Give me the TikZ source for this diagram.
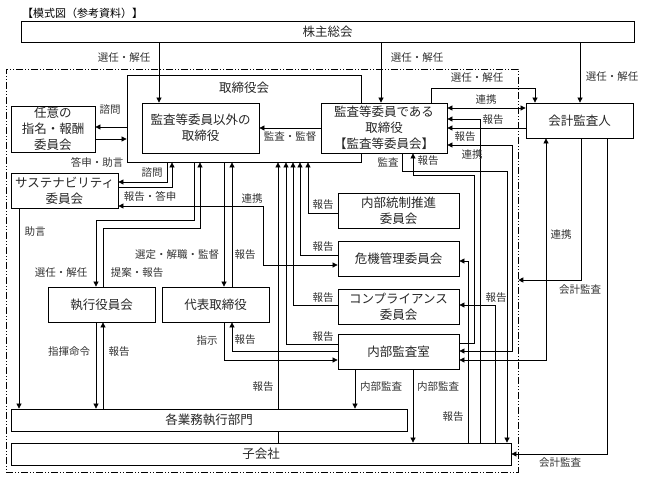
\documentclass[tikz,border=0pt]{standalone}
\usepackage{fontspec}
\setmainfont{Noto Sans CJK JP}
\usetikzlibrary{arrows.meta}
\begin{document}
\begin{tikzpicture}[x=1pt,y=-1pt,
  box/.style={draw,line width=0.8pt,fill=white,align=center,inner sep=0pt,
    font=\fontsize{12.5}{16}\selectfont,text=black!85},
  lbl/.style={font=\fontsize{10.5}{12}\selectfont,text=black!80,inner sep=0pt},
  con/.style={line width=0.7pt},
  arr/.style={con,-{Triangle[length=5pt,width=5pt]}},
  darr/.style={con,{Triangle[length=5pt,width=5pt]}-{Triangle[length=5pt,width=5pt]}},
  frm/.style={draw,line width=0.6pt,dash pattern=on 7pt off 2pt on 1pt off 2pt on 1pt off 2pt},
]
\useasboundingbox (0,0) rectangle (645,479);
\node[anchor=west,font=\fontsize{11}{13}\selectfont,inner sep=0pt] (title) at (22,13) {【模式図（参考資料）】};

% frame
\node[frm,minimum width=512pt,minimum height=403pt,inner sep=0pt] (frame) at (262,270.5) {};

% boxes
\node[box,minimum width=613pt,minimum height=21pt] (sh) at (327.5,31.5) {株主総会};
\node[box,minimum width=234pt,minimum height=87pt] (board) at (244,118.5) {};
\node[font=\fontsize{12.5}{16}\selectfont,text=black!85,inner sep=0pt] (boardt) at (244,88) {取締役会};
\node[box,minimum width=117pt,minimum height=50pt] (nonaudit) at (200.5,128) {監査等委員以外の\\取締役};
\node[box,minimum width=126pt,minimum height=50pt] (audit) at (384,128) {監査等委員である\\取締役\\【監査等委員会】};
\node[box,minimum width=84pt,minimum height=46pt] (nin) at (53,129) {任意の\\指名・報酬\\委員会};
\node[box,minimum width=107pt,minimum height=35pt] (sus) at (64.5,190.5) {サステナビリティ\\委員会};
\node[box,minimum width=107pt,minimum height=35pt] (exec) at (101.5,304.5) {執行役員会};
\node[box,minimum width=107pt,minimum height=35pt] (rep) at (215.5,304.5) {代表取締役};
\node[box,minimum width=121pt,minimum height=35pt] (ic) at (398.5,210.5) {内部統制推進\\委員会};
\node[box,minimum width=121pt,minimum height=35pt] (crisis) at (398.5,258.5) {危機管理委員会};
\node[box,minimum width=121pt,minimum height=35pt] (comp) at (398.5,306.5) {コンプライアンス\\委員会};
\node[box,minimum width=121pt,minimum height=35pt] (ia) at (398.5,351.5) {内部監査室};
\node[box,minimum width=396pt,minimum height=22pt] (biz) at (209,420) {各業務執行部門};
\node[box,minimum width=500pt,minimum height=22pt] (sub) at (261,454) {子会社};
\node[box,minimum width=107pt,minimum height=35pt] (ca) at (579.5,120.5) {会計監査人};

% shareholders
\draw[arr] (159,0 |- sh.south) -- (159,0 |- nonaudit.north);
\node[lbl] (l1) at (124,58) {選任・解任};
\draw[arr] (381,0 |- sh.south) -- (381,0 |- audit.north);
\node[lbl] (l2) at (417,58) {選任・解任};
\draw[arr] (580,0 |- sh.south) -- (580,0 |- ca.north);
\node[lbl] (l3) at (612,77) {選任・解任};

% audit committee <-> accounting auditor
\draw[arr] (431,0 |- audit.north) -- (431,88) -- (535,88) -- (535,0 |- ca.north);
\node[lbl] (l4) at (477,78) {選任・解任};
\draw[darr] (audit.east |- 0,108) -- (ca.west |- 0,108);
\node[lbl] (l5) at (486,100) {連携};
\draw[arr] (ca.west |- 0,128) -- (audit.east |- 0,128);
\node[lbl] (l6) at (493,120) {報告};
\draw[arr] (480,0 |- sub.north) -- (480,119) -- (audit.east |- 0,119);
\draw[arr] (402,0 |- audit.south) -- (402,171) -- (507,171) -- (507,0 |- sub.north);
\node[lbl] (l7) at (388,162) {監査};
\draw[arr] (ia.east |- 0,343) -- (474,343) -- (474,175) -- (413,175) -- (413,0 |- audit.south);
\node[lbl] (l8) at (428,161) {報告};
\draw[darr] (audit.east |- 0,145) -- (512,145) -- (512,351) -- (ia.east |- 0,351);
\node[lbl] (l9) at (465,137) {報告};
\node[lbl] (l10) at (472,155) {連携};
\draw[arr] (468,0 |- sub.north) -- (468,261) -- (crisis.east |- 0,261);
\node[lbl] (l11) at (453,417) {報告};
\draw[arr] (495,0 |- sub.north) -- (495,305) -- (comp.east |- 0,305);
\node[lbl] (l12) at (496,298) {報告};
\draw[arr] (607,0 |- ca.south) -- (607,454) -- (sub.east |- 0,454);
\node[lbl] (l13) at (560,463) {会計監査};
\draw[arr] (581,0 |- ca.south) -- (581,280) -- (frame.east |- 0,280);
\node[lbl] (l14) at (580,290) {会計監査};
\draw[darr] (ia.east |- 0,360) -- (546,360) -- (546,0 |- ca.south);
\node[lbl] (l15) at (561,235) {連携};

% board <-> optional committee
\draw[arr] (board.west |- 0,127) -- (nin.east |- 0,127);
\node[lbl] (l16) at (110,110) {諮問};
\draw[arr] (nin.east |- 0,139) -- (board.west |- 0,139);
\node[lbl] (l17) at (97,162) {答申・助言};
\draw[arr] (audit.west |- 0,128) -- (nonaudit.east |- 0,128);
\node[lbl] (l18) at (290,137) {監査・監督};

% sustainability
\draw[arr] (167,0 |- board.south) -- (167,182) -- (sus.east |- 0,182);
\node[lbl] (l19) at (152,173) {諮問};
\draw[arr] (sus.east |- 0,187) -- (172,187) -- (172,0 |- board.south);
\node[lbl] (l20) at (150,196) {報告・答申};
\draw[darr] (sus.east |- 0,206) -- (263,206) -- (263,265) -- (crisis.west |- 0,265);
\node[lbl] (l21) at (252,199) {連携};
\draw[arr] (19,0 |- sus.south) -- (19,0 |- biz.north);
\node[lbl] (l22) at (35,232) {助言};

% executive
\draw[arr] (194,0 |- board.south) -- (194,220) -- (96,220) -- (96,0 |- exec.north);
\node[lbl] (l23) at (61,273) {選任・解任};
\draw[arr] (103,0 |- exec.north) -- (103,228) -- (200,228) -- (200,0 |- board.south);
\node[lbl] (l24) at (137,273) {提案・報告};
\draw[arr] (224,0 |- board.south) -- (224,0 |- rep.north);
\node[lbl] (l25) at (177,255) {選定・解職・監督};
\draw[arr] (232,0 |- rep.north) -- (232,0 |- board.south);
\node[lbl] (l26) at (245,255) {報告};

% committees -> board
\draw[arr] (ic.west |- 0,213) -- (308,213) -- (308,0 |- board.south);
\node[lbl] (l27) at (323,205) {報告};
\draw[arr] (crisis.west |- 0,255) -- (300,255) -- (300,0 |- board.south);
\node[lbl] (l28) at (323,247) {報告};
\draw[arr] (comp.west |- 0,305) -- (293,305) -- (293,0 |- board.south);
\node[lbl] (l29) at (323,298) {報告};
\draw[arr] (ia.west |- 0,344) -- (286,344) -- (286,0 |- board.south);
\node[lbl] (l30) at (323,337) {報告};
\draw[con] (278,0 |- sub.north) -- (278,0 |- biz.south);
\draw[arr] (278,0 |- biz.north) -- (278,0 |- board.south);
\node[lbl] (l31) at (263,387) {報告};

% representative <-> internal audit
\draw[arr] (ia.west |- 0,351) -- (232,351) -- (232,0 |- rep.south);
\node[lbl] (l32) at (245,340) {報告};
\draw[arr] (224,0 |- rep.south) -- (224,360) -- (ia.west |- 0,360);
\node[lbl] (l33) at (207,341) {指示};

% executive <-> business
\draw[arr] (96,0 |- exec.south) -- (96,0 |- biz.north);
\node[lbl] (l34) at (69,352) {指揮命令};
\draw[arr] (103,0 |- biz.north) -- (103,0 |- exec.south);
\node[lbl] (l35) at (119,352) {報告};

% internal audit down
\draw[arr] (355,0 |- ia.south) -- (355,0 |- biz.north);
\node[lbl] (l36) at (381,387) {内部監査};
\draw[arr] (413,0 |- ia.south) -- (413,0 |- sub.north);
\node[lbl] (l37) at (438,387) {内部監査};
\end{tikzpicture}
\end{document}
